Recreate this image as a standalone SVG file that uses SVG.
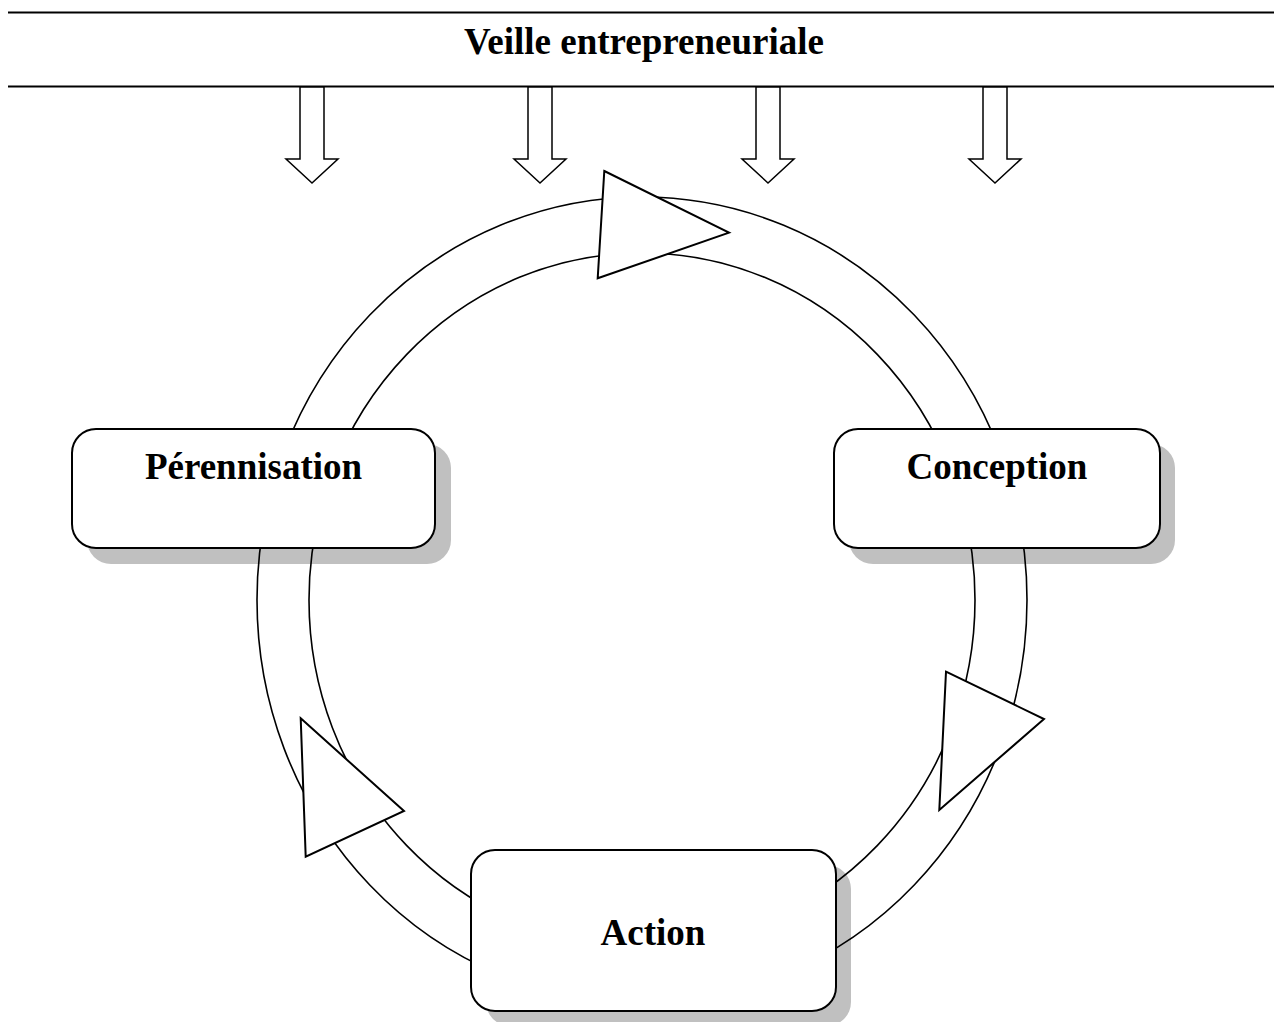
<svg xmlns="http://www.w3.org/2000/svg" width="1274" height="1022" viewBox="0 0 1274 1022">
<style>
.rule{stroke:#000;stroke-width:2.2;fill:none}
.down{fill:#fff;stroke:#000;stroke-width:1.5;stroke-linejoin:miter}
.ring{fill:none;stroke:#000;stroke-width:1.6}
.tri{fill:#fff;stroke:#000;stroke-width:2;stroke-linejoin:miter}
.shadow{fill:#c0c0c0}
.box{fill:#fff;stroke:#000;stroke-width:2}
.lbl{font-family:"Liberation Serif","Times New Roman",serif;font-weight:bold;font-size:37px;fill:#000;text-anchor:middle}
</style>
<rect width="1274" height="1022" fill="#fff"/>
<g id="header">
<line class="rule" x1="8" y1="12.5" x2="1274" y2="12.5"/>
<line class="rule" x1="8" y1="86.5" x2="1274" y2="86.5"/>
<text class="lbl" x="644" y="53.5">Veille entrepreneuriale</text>
</g>
<g id="down-arrows">
<polygon class="down" points="300,87 324,87 324,159 338,159 312,183 286,159 300,159"/>
<polygon class="down" points="528,87 552,87 552,159 566,159 540,183 514,159 528,159"/>
<polygon class="down" points="756,87 780,87 780,159 794,159 768,183 742,159 756,159"/>
<polygon class="down" points="983,87 1007,87 1007,159 1021,159 995,183 969,159 983,159"/>
</g>
<g id="shadows">
<rect class="shadow" x="87" y="444" width="364" height="120" rx="24"/>
<rect class="shadow" x="849" y="444" width="326" height="120" rx="24"/>
<rect class="shadow" x="486" y="865" width="365" height="161" rx="24"/>
</g>
<g id="connectors">
<ellipse class="ring" cx="642" cy="600" rx="385" ry="403"/>
<ellipse class="ring" cx="642" cy="600" rx="333" ry="347"/>
<polygon class="tri" points="604.3,171 729,232.7 597.7,278.3"/>
<polygon class="tri" points="946,671.7 1044,719 939.3,810"/>
<polygon class="tri" points="300.7,718.3 404,811 305.7,856.7"/>
</g>
<g id="node-perennisation">
<rect class="box" x="72" y="429" width="363" height="119" rx="24"/>
<text class="lbl" x="253.5" y="479">Pérennisation</text>
</g>
<g id="node-conception">
<rect class="box" x="834" y="429" width="326" height="119" rx="24"/>
<text class="lbl" x="997" y="479">Conception</text>
</g>
<g id="node-action">
<rect class="box" x="471" y="850" width="365" height="161" rx="24"/>
<text class="lbl" x="653" y="945">Action</text>
</g>
</svg>
